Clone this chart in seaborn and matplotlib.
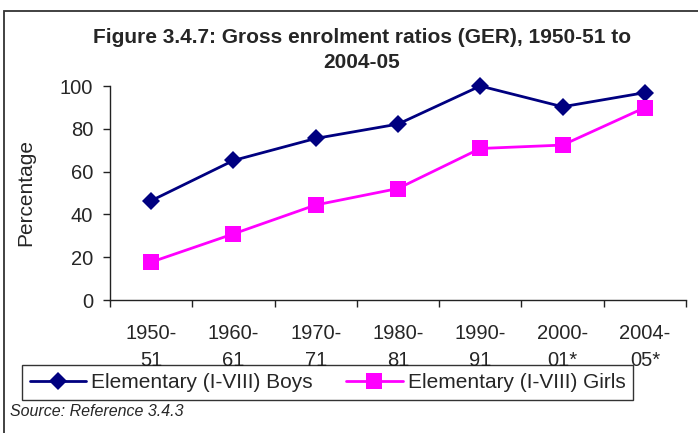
import matplotlib
matplotlib.use("Agg")
import matplotlib.pyplot as plt
import seaborn as sns
import pandas as pd
from matplotlib.patches import Rectangle

categories = ["1950-\n51", "1960-\n61", "1970-\n71", "1980-\n81", "1990-\n91", "2000-\n01*", "2004-\n05*"]
boys = [46.4, 65.2, 75.5, 82.2, 100.0, 90.3, 96.9]
girls = [17.7, 30.9, 44.4, 52.1, 70.8, 72.4, 89.9]
series_names = ["Elementary (I-VIII) Boys", "Elementary (I-VIII) Girls"]
yticks = [0, 20, 40, 60, 80, 100]

sns.set_theme(style="white")
plt.rcParams["font.family"] = ["Liberation Sans", "DejaVu Sans"]

W, H = 698, 433
fig = plt.figure(figsize=(W / 100, H / 100), dpi=100)
ax = fig.add_axes([110 / W, 1 - 300 / H, (686 - 110) / W, (300 - 86) / H])

pos = list(range(len(categories)))
df = pd.DataFrame({
    "pos": pos * 2,
    "value": boys + girls,
    "series": [series_names[0]] * len(pos) + [series_names[1]] * len(pos),
})

sns.lineplot(data=df, x="pos", y="value", hue="series", style="series",
             palette={series_names[0]: "#000080", series_names[1]: "#FF00FF"},
             markers={series_names[0]: "D", series_names[1]: "s"},
             dashes=False, linewidth=2.0, markeredgewidth=0,
             ax=ax, legend=False)
for line, ms in zip(ax.get_lines(), [9.5, 11]):
    line.set_markersize(ms)
    line.set_clip_on(False)

ax.set_xlim(-0.5, len(categories) - 0.5)
ax.set_ylim(0, 100)
ax.set_yticks(yticks)
ax.set_yticklabels([str(v) for v in yticks], fontsize=14.5)
ax.set_xticks([p - 0.5 for p in pos] + [len(pos) - 0.5])
ax.set_xticklabels([])
ax.set_xticks(pos, minor=True)
ax.set_xticklabels(categories, minor=True, fontsize=14.5)
for lab in ax.get_xticklabels(minor=True):
    lab.set_linespacing(1.55)
ax.tick_params(axis="x", which="major", direction="out", length=5, width=1, color="#222222", bottom=True)
ax.tick_params(axis="x", which="minor", length=0, pad=17, bottom=True)
ax.tick_params(axis="y", direction="out", length=5, width=1, color="#222222", pad=7, left=True)

for s in ["top", "right"]:
    ax.spines[s].set_visible(False)
for s in ["left", "bottom"]:
    ax.spines[s].set_color("#222222")
    ax.spines[s].set_linewidth(1)

ax.set_xlabel("")
ax.set_ylabel("Percentage", fontsize=15)
ax.yaxis.set_label_coords((35 - 110) / (686 - 110), 0.5)

fig.text(362 / W, 1 - 50 / H, "Figure 3.4.7: Gross enrolment ratios (GER), 1950-51 to\n2004-05",
         ha="center", va="center", fontsize=15, fontweight="bold", linespacing=1.35)

handles = ax.get_lines()[:2]
leg = fig.legend(handles, series_names, loc="upper left",
                 bbox_to_anchor=(22 / W, 1 - 365 / H), bbox_transform=fig.transFigure,
                 ncol=2, frameon=True, fancybox=False, shadow=False, fontsize=15,
                 handlelength=2.7, handletextpad=0.25, columnspacing=1.6,
                 borderpad=0.38, borderaxespad=0)
leg.get_frame().set_edgecolor("#000000")
leg.get_frame().set_linewidth(1)
leg.set_zorder(5)

fig.text(10 / W, 1 - 412 / H, "Source: Reference 3.4.3", ha="left", va="center",
         fontsize=11.5, fontstyle="italic")

border = Rectangle((4 / W, -0.5), 2, 1 - 11 / H + 0.5, transform=fig.transFigure,
                   fill=False, edgecolor="#333333", linewidth=1.3)
fig.add_artist(border)

fig.savefig("out.png", dpi=100)
